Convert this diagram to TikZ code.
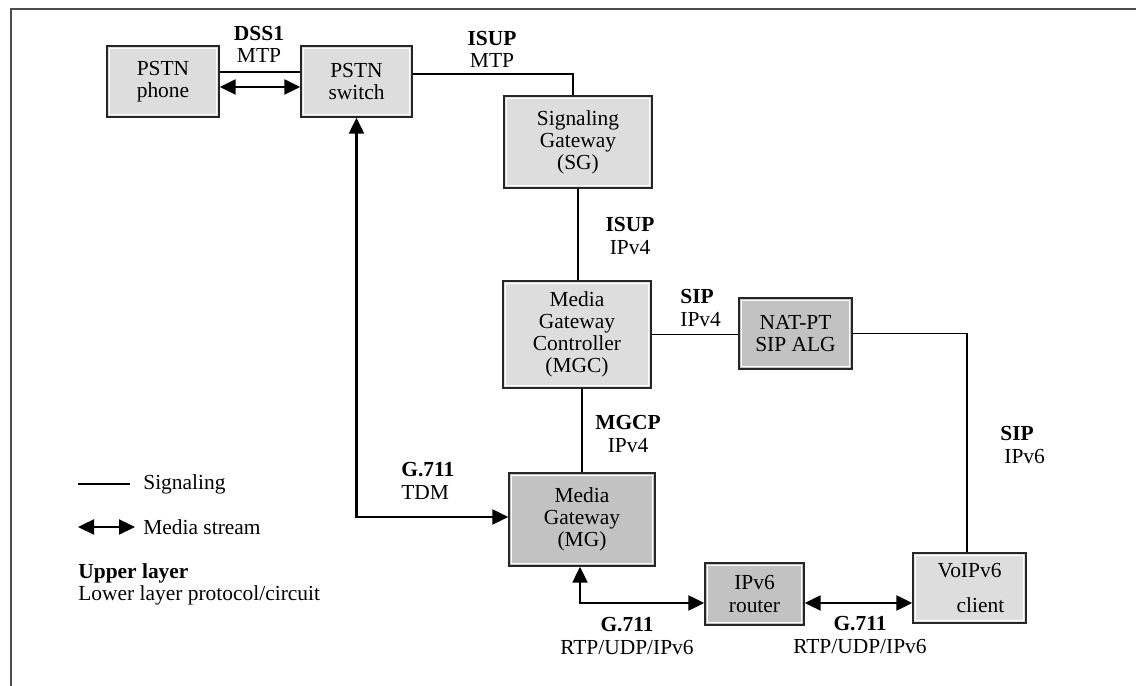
\documentclass[tikz,border=0pt]{standalone}
\usepackage{fontspec}
\setmainfont{Liberation Serif}
\usepackage{xcolor}
\usepackage{tikz}
\usetikzlibrary{arrows.meta,positioning}

\definecolor{boxLight}{HTML}{DDDDDD}
\definecolor{boxDark}{HTML}{C2C2C2}

\begin{document}
\begin{tikzpicture}[
    font=\fontsize{12.2}{12.6}\selectfont,
    device/.style={rectangle, draw=black!85, fill=boxLight, line width=0.8pt, align=center, inner sep=0pt,
        path picture={\draw[white, line width=0.5pt] ([shift={(1.2pt,-1.2pt)}]path picture bounding box.north west) rectangle ([shift={(-1.2pt,1.2pt)}]path picture bounding box.south east);}},
    deviceDark/.style={device, fill=boxDark},
    sig/.style={draw=black, line width=0.6pt},
    media/.style={draw=black, line width=1.3pt, {Triangle[length=3.2mm,width=3mm]}-{Triangle[length=3.2mm,width=3mm]}},
    proto/.style={align=center, inner sep=0pt},
    protoLeft/.style={align=left, inner sep=0pt, anchor=west}
]
\useasboundingbox (0,0) rectangle (22.72,13.72);

% Frame
\draw[black!70, line width=0.7pt] (0.22,0) -- (0.22,13.54) -- (22.72,13.54);

% PSTN side
\node[device, minimum width=2.24cm, minimum height=1.42cm] (phone) at (3.26, 12.09) {PSTN\\phone};
\node[device, minimum width=2.22cm, minimum height=1.42cm] (switch) at (7.13, 12.09) {PSTN\\switch};

% Gateways
\node[device, minimum width=2.96cm, minimum height=1.84cm] (sg) at (11.56, 10.88) {Signaling\\Gateway\\(SG)};
\node[device, minimum width=2.96cm, minimum height=2.14cm] (mgc) at (11.54, 7.03) {Media\\Gateway\\Controller\\(MGC)};
\node[deviceDark, minimum width=2.26cm, minimum height=1.42cm] (nat) at (15.91, 7.05) {NAT-PT\\SIP ALG};
\node[deviceDark, minimum width=2.92cm, minimum height=1.86cm] (mg) at (11.64, 3.33) {Media\\Gateway\\(MG)};

% IPv6 side
\node[deviceDark, minimum width=1.98cm, minimum height=1.24cm] (router) at (15.09, 1.84) {IPv6\\router};
\node[device, minimum width=2.26cm, minimum height=1.40cm] (client) at (19.39, 1.96) {VoIPv6\\[0.25cm]\hspace*{0.44cm}client};

% Signaling
\draw[sig] ([yshift=0.19cm]phone.east) -- ([yshift=0.19cm]switch.west);
\draw[sig] ([yshift=0.15cm]switch.east) -| ([xshift=-0.1cm]sg.north);
\draw[sig] (sg.south) -- (sg.south |- mgc.north);
\draw[sig] (mgc.east) -- (mgc.east -| nat.west);
\draw[sig] (nat.east) -| ([xshift=-0.05cm]client.north);
\draw[sig] (mg.north |- mgc.south) -- (mg.north);

% Media streams
\draw[media] ([yshift=-0.11cm]phone.east) -- ([yshift=-0.11cm]switch.west);
\draw[media] (switch.south) |- ([yshift=0.05cm]mg.west);
\draw[media] ([xshift=-0.04cm]mg.south) |- ([yshift=-0.18cm]router.west);
\draw[media] ([yshift=-0.18cm]router.east) -- ([yshift=-0.18cm]router.east -| client.west);

% Protocol labels
\node[proto] (dss) at (5.18, 12.84) {\textbf{DSS1}\\MTP};
\node[proto] (isupMtp) at (9.84, 12.74) {\textbf{ISUP}\\MTP};
\node[proto] (isupIp) at (12.60, 9.00) {\textbf{ISUP}\\IPv4};
\node[protoLeft] (sipIp4) at (13.60, 7.56) {\textbf{SIP}\\IPv4};
\node[proto] (mgcp) at (12.56, 5.04) {\textbf{MGCP}\\IPv4};
\node[protoLeft] (tdm) at (8.02, 4.10) {\textbf{G.711}\\TDM};
\node[protoLeft] (sipIp6) at (20.00, 4.82) {\textbf{SIP}\\\hspace*{0.08cm}IPv6};
\node[proto] (rtpLeft) at (12.54, 1.00) {\textbf{G.711}\\RTP/UDP/IPv6};
\node[proto] (rtpRight) at (17.20, 1.02) {\textbf{G.711}\\RTP/UDP/IPv6};

% Legend
\coordinate (sigA) at (1.56, 4.04);
\coordinate (sigB) at (2.60, 4.04);
\draw[sig] (sigA) -- (sigB);
\node[protoLeft] (sigText) at (2.86, 4.04) {Signaling};
\coordinate (medA) at (1.56, 3.18);
\coordinate (medB) at (2.70, 3.18);
\draw[media] (medA) -- (medB);
\node[protoLeft] (medText) at (2.86, 3.18) {Media stream};
\node[protoLeft] (layers) at (1.56, 2.03) {\textbf{Upper layer}\\Lower layer protocol/circuit};

\end{tikzpicture}
\end{document}
